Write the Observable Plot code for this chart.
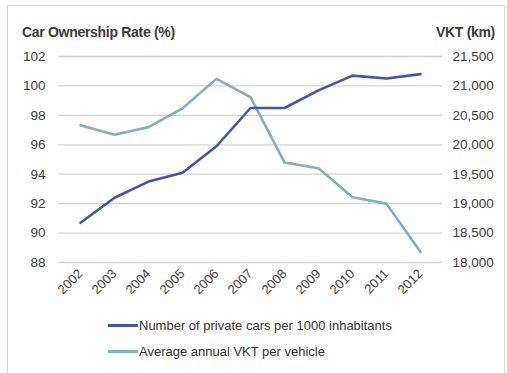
<!DOCTYPE html>
<html><head><meta charset="utf-8">
<script src="https://cdn.jsdelivr.net/npm/d3@7"></script>
<script src="https://cdn.jsdelivr.net/npm/@observablehq/plot@0.6"></script>
<style>
body{margin:0;background:#fff;font-family:"Liberation Sans",Arial,sans-serif;}
#wrap{position:relative;width:507px;height:373px;overflow:hidden;}
#frame{position:absolute;left:7px;top:5px;width:498px;height:370px;border:1px solid #d8d8d8;box-sizing:border-box;border-bottom:none;}
.t{position:absolute;color:#3a3a3a;font-size:14px;white-space:nowrap;}
.lg{position:absolute;font-size:13px;color:#333;white-space:nowrap;}
.sw{display:inline-block;width:30px;height:3px;vertical-align:middle;margin-right:1px;position:relative;top:-1px;}
</style></head>
<body><div id="wrap"><div id="frame"></div><div id="chart"></div>
<div class="t" style="left:22px;top:24px;font-weight:bold;letter-spacing:-0.3px;">Car Ownership Rate (%)</div>
<div class="t" style="right:12px;top:24px;font-weight:bold;letter-spacing:-0.3px;">VKT (km)</div>
<div class="lg" style="left:108px;top:318px;"><span class="sw" style="background:#3f58a6"></span>Number of private cars per 1000 inhabitants</div>
<div class="lg" style="left:108px;top:344px;"><span class="sw" style="background:#82adc6"></span>Average annual VKT per vehicle</div>
</div>
<script>
const years = ["2002","2003","2004","2005","2006","2007","2008","2009","2010","2011","2012"];
const carsPer1000 = [90.7, 92.4, 93.5, 94.1, 95.9, 98.5, 98.5, 99.7, 100.7, 100.5, 100.8];
const vktPerVehicle = [20330, 20170, 20300, 20620, 21120, 20810, 19700, 19600, 19110, 19000, 18180];
const leftTicks = [88, 90, 92, 94, 96, 98, 100, 102];
const rightTicks = [18000, 18500, 19000, 19500, 20000, 20500, 21000, 21500];

const toLeft = v => 88 + (v - 18000) / 3500 * 14;
const toRight = y => Math.round((18000 + (y - 88) / 14 * 3500) / 10) * 10;

const cars = years.map((yr, i) => ({year: yr, v: carsPer1000[i]}));
const vkt = years.map((yr, i) => ({year: yr, v: toLeft(vktPerVehicle[i])}));

const chart = Plot.plot({
  width: 507, height: 373,
  marginLeft: 58, marginRight: 65, marginTop: 56, marginBottom: 111,
  style: {fontFamily: '"Liberation Sans", Arial, sans-serif', fontSize: "13px", color: "#404040", background: "transparent"},
  x: {type: "point", domain: years, padding: 0.5},
  y: {domain: [88, 102]},
  marks: [
    Plot.gridY(leftTicks, {stroke: "#d4d4d4", strokeOpacity: 1, strokeWidth: 1.3}),
    Plot.axisY(leftTicks, {anchor: "left", tickSize: 0, tickPadding: 13, label: null, fontSize: 13.5}),
    Plot.axisY(rightTicks.map(toLeft), {anchor: "right", tickSize: 0, tickPadding: 10, textAnchor: "start", label: null, tickFormat: d => d3.format(",")(toRight(d)), fontSize: 13.5}),
    Plot.axisX(years, {tickSize: 0, tickRotate: -45, tickPadding: 6, label: null, fontSize: 13, dy: 3}),
    Plot.line(vkt, {x: "year", y: "v", stroke: "#82adc6", strokeWidth: 2.6}),
    Plot.line(cars, {x: "year", y: "v", stroke: "#3f58a6", strokeWidth: 2.6})
  ]
});
chart.style.position = "absolute";
chart.style.left = "0px";
chart.style.top = "0px";
document.getElementById("chart").appendChild(chart);
</script>
</body></html>
